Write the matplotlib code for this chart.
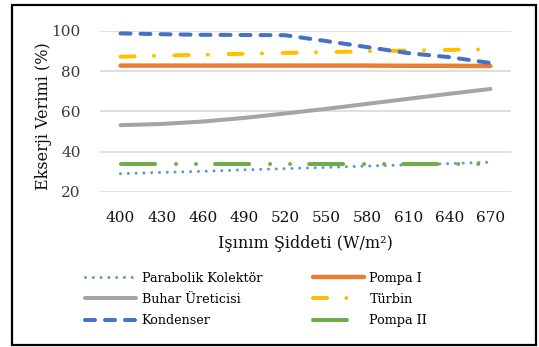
import matplotlib
matplotlib.use("Agg")
import matplotlib.pyplot as plt
from matplotlib.patches import Rectangle

# Irradiance levels (W/m2) and exergy efficiencies (%) of each component
irradiance = [400, 430, 460, 490, 520, 550, 580, 610, 640, 670]
parabolik_kolektor = [29.1, 29.7, 30.3, 31.0, 31.6, 32.2, 32.9, 33.5, 34.1, 34.8]
pompa_1 = [82.8, 82.8, 82.8, 82.8, 82.8, 82.8, 82.8, 82.7, 82.7, 82.6]
buhar_ureticisi = [53.2, 53.8, 55.0, 56.8, 59.0, 61.3, 63.8, 66.3, 68.8, 71.2]
turbin = [87.2, 87.7, 88.2, 88.7, 89.1, 89.5, 89.9, 90.3, 90.6, 90.9]
kondenser = [98.8, 98.4, 98.1, 98.0, 97.9, 95.0, 92.0, 89.0, 87.0, 84.1]
pompa_2 = [33.9, 33.9, 33.9, 33.9, 33.9, 33.9, 33.9, 33.9, 33.9, 33.9]

y_ticks = [20, 40, 60, 80, 100]

plt.rcParams["font.family"] = ["DejaVu Serif", "Liberation Serif"]
plt.rcParams["lines.scale_dashes"] = False

fig = plt.figure(figsize=(5.39, 3.47), dpi=100)
ax = fig.add_axes([0.1855, 0.4467, 0.7625, 0.4640])

pos = list(range(len(irradiance)))
lw = 2.9

ax.plot(pos, parabolik_kolektor, color="#5B9BD5", lw=2.2,
        dashes=(0.01, 5.6), dash_capstyle="round", label="Parabolik Kolektör", zorder=3)
ax.plot(pos, pompa_1, color="#ED7D31", lw=3.2, solid_capstyle="round",
        label="Pompa I", zorder=4)
ax.plot(pos, buhar_ureticisi, color="#A5A5A5", lw=lw, solid_capstyle="round",
        label="Buhar Üreticisi", zorder=5)
ax.plot(pos, turbin, color="#FFC000", lw=lw, dashes=(10.1, 13.9, 0.01, 14.9),
        dash_capstyle="round", label="Türbin", zorder=6)
ax.plot(pos, kondenser, color="#4472C4", lw=lw, dashes=(7.2, 7.2),
        dash_capstyle="round", label="Kondenser", zorder=7)
ax.plot(pos, pompa_2, color="#70AD47", lw=lw,
        dashes=(24.5, 15.1, 0.01, 14.4, 0.01, 13.7),
        dash_capstyle="round", label="Pompa II", zorder=8)

ax.set_xlim(-0.5, len(irradiance) - 0.5)
ax.set_ylim(20, 100)
ax.set_xticks(pos)
ax.set_xticklabels([str(v) for v in irradiance])
ax.set_yticks(y_ticks)
ax.tick_params(length=0, labelsize=11)
ax.tick_params(axis="x", colors="#111111", pad=14)
ax.tick_params(axis="y", colors="#3a3a3a", pad=14)
ax.grid(axis="y", color="#D9D9D9", lw=1.2)
ax.set_axisbelow(True)
for s in ax.spines.values():
    s.set_visible(False)

ax.set_xlabel("Işınım Şiddeti (W/m²)", fontsize=11.5, labelpad=7, color="#111111")
ax.set_ylabel("Ekserji Verimi (%)", fontsize=11.5, color="#111111")
ax.yaxis.set_label_coords(-0.117, 0.47)

handles, labels = ax.get_legend_handles_labels()
order = [0, 2, 4, 1, 3, 5]
fig.legend([handles[i] for i in order], [labels[i] for i in order],
           ncol=2, loc="upper left", bbox_to_anchor=(0.148, 0.232),
           frameon=False, fontsize=9.2, handlelength=4.0, handletextpad=0.45,
           columnspacing=3.95, labelspacing=0.65, borderaxespad=0)

fig.add_artist(Rectangle((12 / 539, 2 / 347), 524 / 539, 340 / 347,
                         transform=fig.transFigure, fill=False,
                         edgecolor="black", lw=1.6))

fig.savefig("out.png", dpi=100)
